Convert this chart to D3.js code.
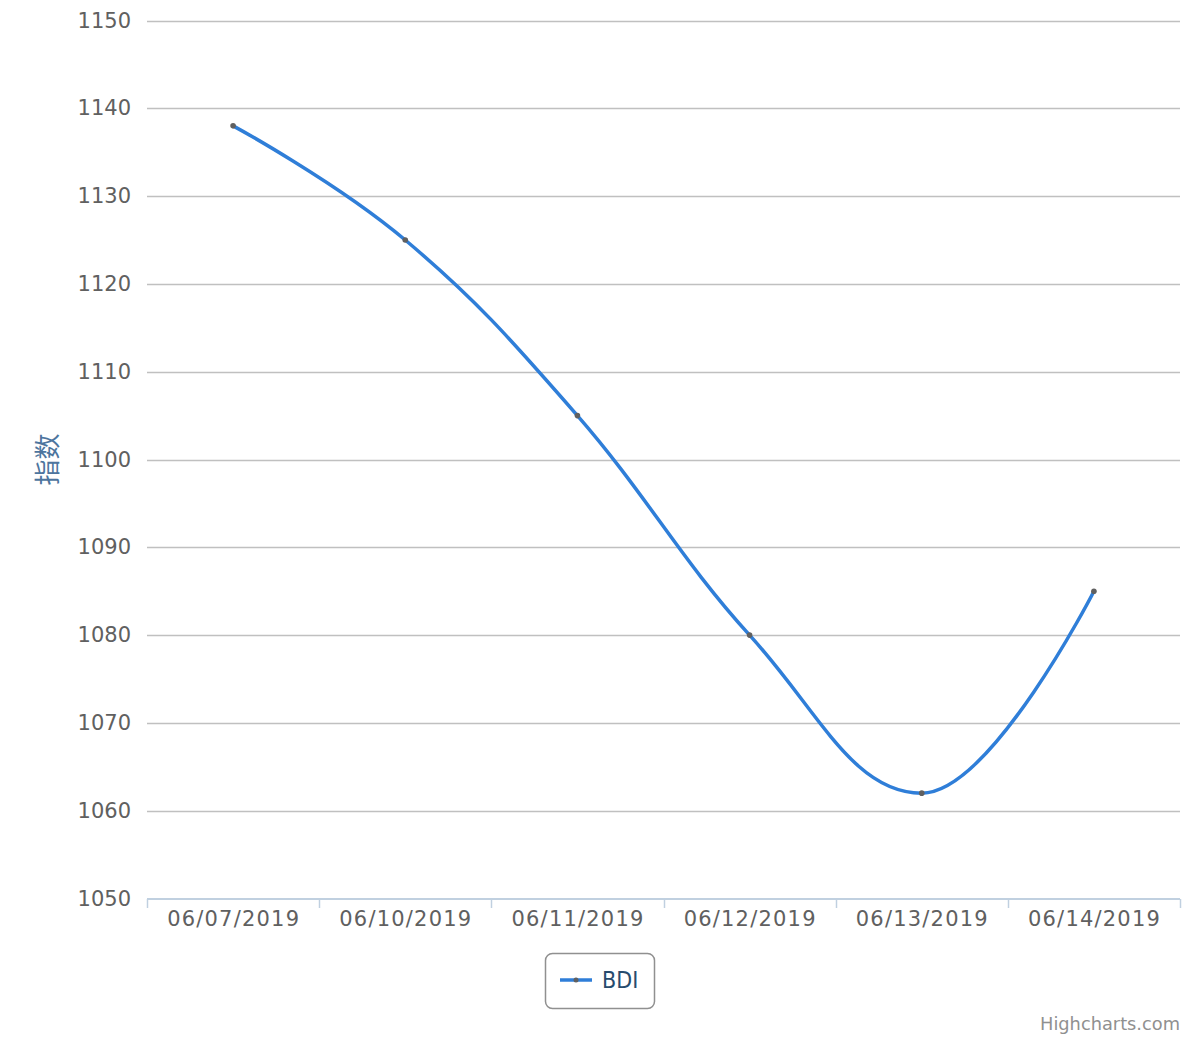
<!DOCTYPE html>
<html><head><meta charset="utf-8">
<script src="https://cdn.jsdelivr.net/npm/d3@7"></script>
<style>body{margin:0;background:#fff}svg{display:block;font-family:"DejaVu Sans",sans-serif}</style>
</head><body><div id="chart"></div>
<script>
const categories = ["06/07/2019","06/10/2019","06/11/2019","06/12/2019","06/13/2019","06/14/2019"];
const values = [1138, 1125, 1105, 1080, 1062, 1085];
const yTicks = [1050,1060,1070,1080,1090,1100,1110,1120,1130,1140,1150];
const seriesName = "BDI";
const yTitle = "指数";

const W = 1200, H = 1040;
const plotLeft = 147, plotRight = 1180, plotTop = 20.5, plotBottom = 898.5;
const svg = d3.select("#chart").append("svg").attr("width", W).attr("height", H);

const x = d3.scaleBand().domain(categories).range([plotLeft, plotRight]);
const y = d3.scaleLinear().domain([1050, 1150]).range([plotBottom, plotTop]);

// gridlines
svg.append("g").selectAll("line").data(yTicks.filter(t => t > 1050)).join("line")
  .attr("x1", plotLeft).attr("x2", plotRight)
  .attr("y1", d => Math.round(y(d)) + 0.5).attr("y2", d => Math.round(y(d)) + 0.5)
  .attr("stroke", "#C0C0C0").attr("stroke-width", 1.5);

// y labels
svg.append("g").selectAll("text").data(yTicks).join("text")
  .attr("x", 131).attr("y", d => y(d) + 7)
  .attr("text-anchor", "end").attr("font-size", 21).attr("fill", "#606060")
  .text(d => d);

// y title
svg.append("text").attr("transform", `translate(57,${(plotTop+plotBottom)/2}) rotate(-90)`)
  .attr("text-anchor", "middle").attr("font-size", 26).attr("fill", "#4d759e")
  .attr("font-family", "'Noto Sans CJK SC',sans-serif")
  .text(yTitle);

// x axis
const xAxisY = 899;
svg.append("line").attr("x1", plotLeft).attr("x2", plotRight).attr("y1", xAxisY).attr("y2", xAxisY)
  .attr("stroke", "#C0D0E0").attr("stroke-width", 2);
const tickPos = categories.map(c => x(c)).concat([x(categories[categories.length-1]) + x.bandwidth()]);
svg.append("g").selectAll("line").data(tickPos).join("line")
  .attr("x1", d => Math.round(d) + 0.5).attr("x2", d => Math.round(d) + 0.5)
  .attr("y1", xAxisY).attr("y2", xAxisY + 9)
  .attr("stroke", "#C0D0E0").attr("stroke-width", 1.5);
svg.append("g").selectAll("text").data(categories).join("text")
  .attr("x", d => x(d) + x.bandwidth()/2 + 0.6).attr("y", 926)
  .attr("text-anchor", "middle").attr("font-size", 21).attr("letter-spacing", 1.2).attr("fill", "#606060")
  .text(d => d);

// Highcharts-style spline
const pts = values.map((v, i) => [x(categories[i]) + x.bandwidth()/2, y(v)]);
function hcSpline(points) {
  const smoothing = 1.5, denom = smoothing + 1;
  const ctrl = points.map(() => ({}));
  for (let i = 1; i < points.length - 1; i++) {
    const [px, py] = points[i], [lx, ly] = points[i-1], [nx, ny] = points[i+1];
    let lcx = (smoothing*px + lx)/denom, lcy = (smoothing*py + ly)/denom;
    let rcx = (smoothing*px + nx)/denom, rcy = (smoothing*py + ny)/denom;
    if (rcx !== lcx) {
      const corr = ((rcy - lcy) * (rcx - px)) / (rcx - lcx) + py - rcy;
      lcy += corr; rcy += corr;
    }
    if (lcy > ly && lcy > py) { lcy = Math.max(ly, py); rcy = 2*py - lcy; }
    else if (lcy < ly && lcy < py) { lcy = Math.min(ly, py); rcy = 2*py - lcy; }
    if (rcy > ny && rcy > py) { rcy = Math.max(ny, py); lcy = 2*py - rcy; }
    else if (rcy < ny && rcy < py) { rcy = Math.min(ny, py); lcy = 2*py - rcy; }
    ctrl[i] = {l: [lcx, lcy], r: [rcx, rcy]};
  }
  ctrl[0] = {l: points[0], r: points[0]};
  ctrl[points.length-1] = {l: points[points.length-1], r: points[points.length-1]};
  const p = d3.path();
  p.moveTo(points[0][0], points[0][1]);
  for (let i = 1; i < points.length; i++) {
    const a = ctrl[i-1].r, b = ctrl[i].l, c = points[i];
    p.bezierCurveTo(a[0], a[1], b[0], b[1], c[0], c[1]);
  }
  return p.toString();
}
svg.append("path").attr("d", hcSpline(pts)).attr("fill", "none")
  .attr("stroke", "#2f7ed8").attr("stroke-width", 3.5).attr("stroke-linejoin", "round").attr("stroke-linecap", "round");
svg.append("g").selectAll("circle").data(pts).join("circle")
  .attr("cx", d => d[0]).attr("cy", d => d[1]).attr("r", 2.8).attr("fill", "#606060");

// legend
const lg = svg.append("g");
lg.append("rect").attr("x", 545.5).attr("y", 953.5).attr("width", 109).attr("height", 55).attr("rx", 7)
  .attr("fill", "#fff").attr("stroke", "#909090").attr("stroke-width", 1.5);
lg.append("line").attr("x1", 560).attr("x2", 592).attr("y1", 980).attr("y2", 980)
  .attr("stroke", "#2f7ed8").attr("stroke-width", 3.5);
lg.append("circle").attr("cx", 576).attr("cy", 980).attr("r", 2.5).attr("fill", "#606060");
lg.append("text").attr("x", 602).attr("y", 988).attr("font-size", 23).attr("fill", "#274b6d")
  .attr("font-family", "'DejaVu Sans Condensed','DejaVu Sans',sans-serif")
  .text(seriesName);

// credits
svg.append("text").attr("x", 1180).attr("y", 1030).attr("text-anchor", "end")
  .attr("font-size", 17.8).attr("fill", "#909090").text("Highcharts.com");
</script></body></html>
